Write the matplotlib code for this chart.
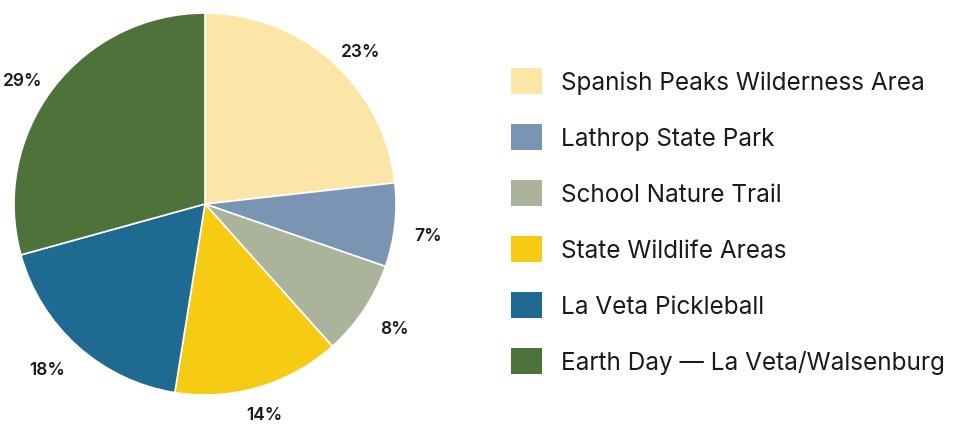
import numpy as np
import matplotlib.pyplot as plt
from matplotlib.patches import Patch

plt.rcParams['font.family'] = ['Inter', 'DejaVu Sans']

# data
places = ['Spanish Peaks Wilderness Area', 'Lathrop State Park', 'School Nature Trail',
          'State Wildlife Areas', 'La Veta Pickleball', 'Earth Day \u2014 La Veta/Walsenburg']
shares = [23, 7, 8, 14, 18, 29]
colors = ['#FBE6A7', '#7A94B3', '#ABB49A', '#F6CB14', '#1F6A91', '#4D723A']

fig = plt.figure(figsize=(9.56, 4.35), dpi=100)
ax = fig.add_axes([14 / 956, 39 / 435, 382 / 956, 382 / 435])

wedges, _ = ax.pie(shares, colors=colors, startangle=90, counterclock=False,
                   wedgeprops=dict(edgecolor='white', linewidth=1.2))
ax.set_xlim(-1, 1)
ax.set_ylim(-1, 1)
ax.set_aspect('equal')

# percentage labels just outside the slices
for w, s in zip(wedges, shares):
    ang = np.deg2rad((w.theta1 + w.theta2) / 2)
    c, sn = np.cos(ang), np.sin(ang)
    r = 1.07 if sn > 0 else 1.1
    if abs(c) < 0.35:
        ha = 'center'
    else:
        ha = 'left' if c > 0 else 'right'
    ax.text(r * c, r * sn, f'{s}%', ha=ha, va='center' if sn > 0 else 'top',
            fontsize=12.5, fontweight=600, color='#1a1a1a', clip_on=False)

handles = [Patch(facecolor=c, edgecolor='none') for c in colors]
fig.legend(handles, places, loc='upper left', bbox_to_anchor=(499 / 956, 1 - 57 / 435),
           frameon=False, fontsize=17.5, handlelength=1.28, handleheight=1.28,
           handletextpad=0.78, labelspacing=1.22, labelcolor='#1a1a1a', borderpad=0)

fig.savefig('out.png', dpi=100, facecolor='white')
